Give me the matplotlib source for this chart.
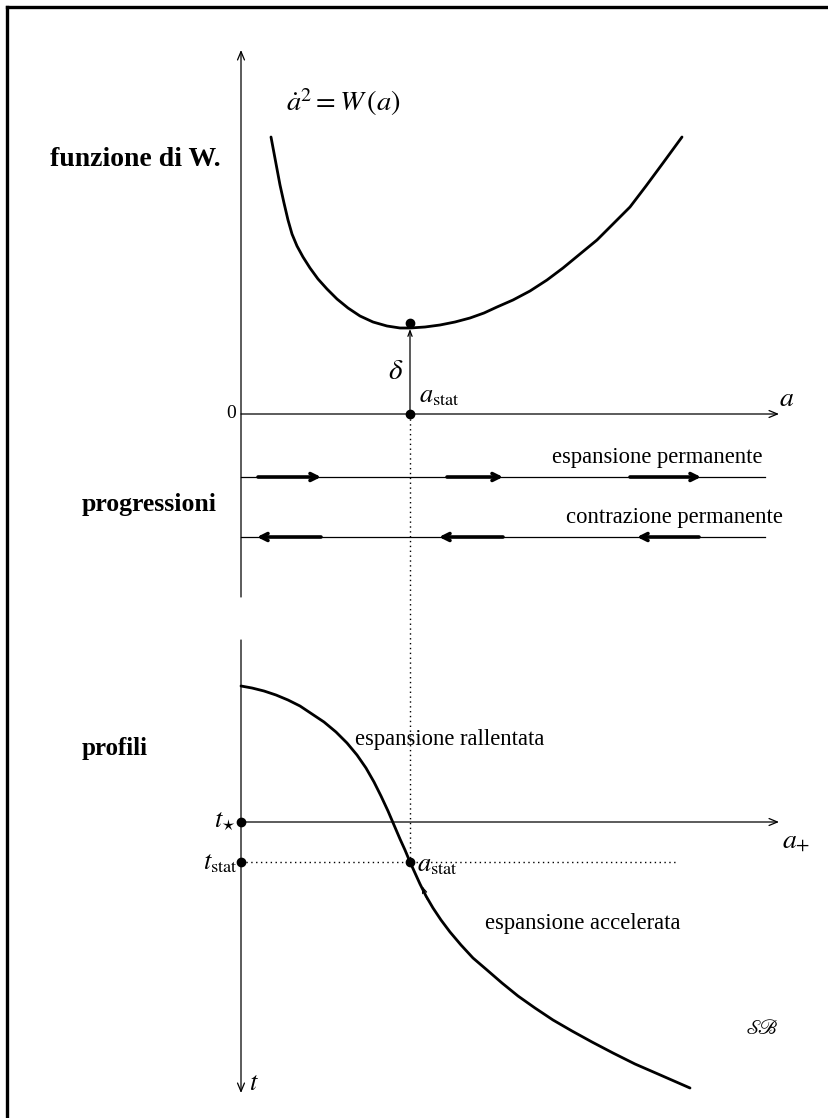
import matplotlib
matplotlib.use("Agg")
import matplotlib.pyplot as plt

plt.rcParams['font.family'] = ['Liberation Serif', 'DejaVu Serif']
plt.rcParams['mathtext.fontset'] = 'stix'

# ---- diagram data (drawing units: x to the right, y downwards) ----
# potential W(a): sample points of the upper curve
W_x = [271, 274, 277, 280, 284, 288, 292, 297, 303, 310, 318, 327, 337,
       348, 360, 373, 387, 400, 410, 425, 440, 455, 470, 484, 497, 513,
       530, 547, 563, 580, 597, 613, 630, 646, 663, 682]
W_y = [137, 153, 169, 185, 203, 220, 234, 246, 257, 268, 279, 289, 299,
       308, 316, 322, 326, 328, 328, 327, 325, 322, 318, 313, 307, 300,
       291, 280, 268, 254, 240, 224, 207, 186, 163, 137]

# profile a(t): sample points of the lower curve
P_x = [241, 252, 264, 276, 288, 300, 312, 324, 336, 347, 357, 366, 374,
       381, 388, 394, 400, 405, 410, 415, 420, 426, 433, 441, 450, 461,
       473, 487, 502, 518, 535, 553, 572, 592, 613, 635, 658, 690]
P_y = [686, 688, 691, 695, 700, 706, 714, 722, 732, 743, 755, 768, 782,
       796, 811, 825, 839, 850, 862, 873, 884, 896, 908, 920, 932, 945,
       958, 970, 983, 996, 1008, 1020, 1031, 1042, 1053, 1064, 1074, 1088]

# reference levels
axis_x = 241
a_stat = 410
W_min = 323
zero_level = 414
t_star = 822
t_stat = 862

# progression arrows (start, end) on the two lines
expand_y = 477
contract_y = 537
expand_arrows = [(258, 321), (447, 503), (630, 701)]
contract_arrows = [(321, 257), (503, 439), (699, 637)]

fig = plt.figure(figsize=(8.29, 11.18), dpi=100)
ax = fig.add_axes([0, 0, 1, 1])
ax.set_xlim(0, 829)
ax.set_ylim(1118, 0)
ax.axis('off')

ink = 'black'
thin = 0.9

# outer frame (top and left edges)
ax.plot([7, 829], [7, 7], color=ink, lw=2.4, solid_capstyle='projecting')
ax.plot([7, 7], [7, 1118], color=ink, lw=2.4, solid_capstyle='projecting')

def arrow(x0, y0, x1, y1, lw=thin, hl=0.6, hw=0.25):
    ax.annotate('', xy=(x1, y1), xytext=(x0, y0),
                arrowprops=dict(arrowstyle=f'->,head_length={hl},head_width={hw}',
                                lw=lw, color=ink, shrinkA=0, shrinkB=0))

# ---- upper panel: W(a) ----
arrow(axis_x, 597, axis_x, 50)
arrow(axis_x, zero_level, 779, zero_level)
ax.plot(W_x, W_y, color=ink, lw=2.0, solid_capstyle='round', solid_joinstyle='round')
arrow(a_stat, zero_level, a_stat, 329, hl=0.4, hw=0.15)
ax.plot([a_stat, a_stat], [W_min, zero_level], 'o', color=ink, ms=6)
ax.text(286, 102, r'$\dot{a}^2 = W\,(a)$', fontsize=20.5, va='center', ha='left')
ax.text(236, 414, '0', fontsize=14, ha='right', va='center')
ax.text(787, 400, r'$a$', fontsize=20, ha='center', va='center')
ax.text(396, 372, r'$\delta$', fontsize=21, ha='center', va='center')
ax.text(419, 397, r'$a_{\mathrm{stat}}$', fontsize=19, ha='left', va='center')
ax.text(50, 160, 'funzione di W.', fontsize=20, fontweight='bold',
        ha='left', va='center')

# dotted guide from a_stat down to the profile
ax.plot([a_stat, a_stat], [zero_level, t_stat], ls=(0, (1, 2.5)), color=ink, lw=1)

# ---- middle panel: progressions ----
ax.plot([axis_x, 765], [expand_y, expand_y], color=ink, lw=thin)
ax.plot([axis_x, 765], [contract_y, contract_y], color=ink, lw=thin)
for x0, x1 in expand_arrows:
    arrow(x0, expand_y, x1, expand_y, lw=2.6, hl=0.5, hw=0.25)
for x0, x1 in contract_arrows:
    arrow(x0, contract_y, x1, contract_y, lw=2.6, hl=0.5, hw=0.25)
ax.text(763, 458, 'espansione permanente', fontsize=16.3, ha='right', va='center')
ax.text(783, 518, 'contrazione permanente', fontsize=16.3, ha='right', va='center')
ax.text(82, 504, 'progressioni', fontsize=18.5, fontweight='bold',
        ha='left', va='center')

# ---- lower panel: profiles ----
arrow(axis_x, 640, axis_x, 1093)
arrow(axis_x, t_star, 779, t_star)
ax.plot([axis_x, 678], [t_stat, t_stat], ls=(0, (1, 2.5)), color=ink, lw=1)
ax.plot(P_x, P_y, color=ink, lw=2.0, solid_capstyle='round', solid_joinstyle='round')
arrow(427, 899, 422, 886, hl=0.4, hw=0.15)
ax.plot([axis_x, axis_x, a_stat], [t_star, t_stat, t_stat], 'o', color=ink, ms=6)
ax.text(236, 822, r'$t_{\star}$', fontsize=19, ha='right', va='center')
ax.text(238, 864, r'$t_{\mathrm{stat}}$', fontsize=19, ha='right', va='center')
ax.text(782, 841, r'$a_{+}$', fontsize=20, ha='left', va='center')
ax.text(417, 866, r'$a_{\mathrm{stat}}$', fontsize=19, ha='left', va='center')
ax.text(249, 1084, r'$t$', fontsize=19, ha='left', va='center')
ax.text(355, 740, 'espansione rallentata', fontsize=16.3, ha='left', va='center')
ax.text(485, 923, 'espansione accelerata', fontsize=16.3, ha='left', va='center')
ax.text(82, 748, 'profili', fontsize=18, fontweight='bold', ha='left', va='center')
ax.text(745, 1030, r'$\mathscr{S}\!\mathscr{B}$', fontsize=15, ha='left', va='center')

fig.savefig('out.png', dpi=100)
